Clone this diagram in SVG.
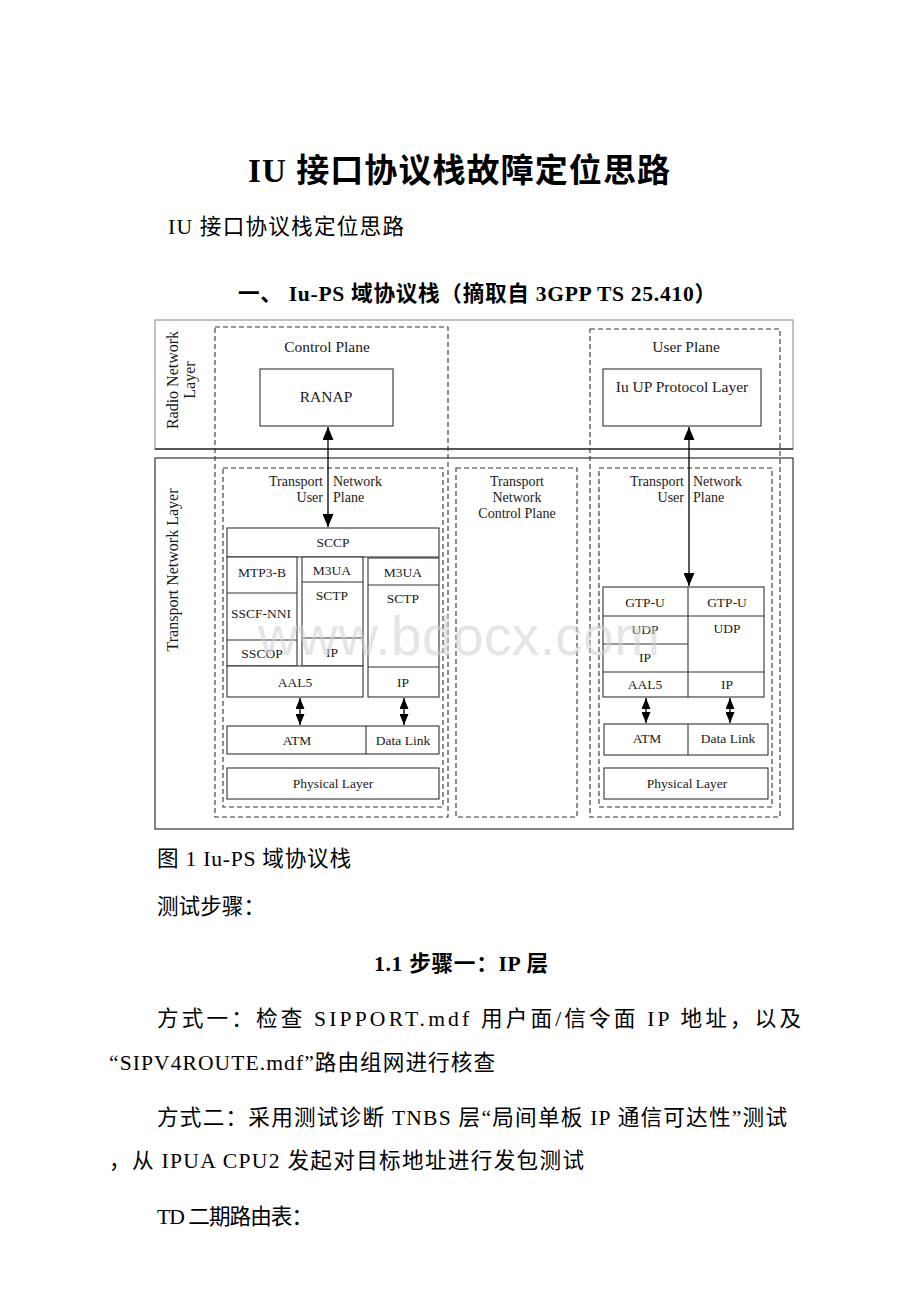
<svg xmlns="http://www.w3.org/2000/svg" width="920" height="1302" viewBox="0 0 920 1302">
<defs>
<marker id="ah" markerUnits="userSpaceOnUse" markerWidth="13" markerHeight="11" viewBox="0 0 13 11" refX="13" refY="5.5" orient="auto-start-reverse"><path d="M0,0 L13,5.5 L0,11 Z" fill="#000"/></marker>
<marker id="ahs" markerUnits="userSpaceOnUse" markerWidth="11" markerHeight="9" viewBox="0 0 11 9" refX="11" refY="4.5" orient="auto-start-reverse"><path d="M0,0 L11,4.5 L0,9 Z" fill="#000"/></marker>
</defs>
<style>
.doc{font-family:"Liberation Serif","Noto Sans CJK SC",serif;fill:#000}
.body{font-size:21.6px}
.bold{font-weight:bold}
.lbl{font-family:"Liberation Serif","Times New Roman",serif;font-size:13.5px;fill:#1a1a1a;text-anchor:middle}
.big{font-size:15.5px}
.tn{font-family:"Liberation Serif","Times New Roman",serif;font-size:14px;fill:#1a1a1a}
.rot{font-family:"Liberation Serif","Times New Roman",serif;font-size:16px;fill:#1a1a1a;text-anchor:middle}
.box{fill:#fff;stroke:#333;stroke-width:1.1}
.ln{stroke:#333;stroke-width:1.1;fill:none}
.dash{fill:none;stroke:#333;stroke-width:1.1;stroke-dasharray:5,3}
.frame{fill:none;stroke:#444;stroke-width:1.3}
.conn{stroke:#000;stroke-width:1.3;fill:none}
</style>
<rect width="920" height="1302" fill="#fff"/>

<g id="page-text" class="doc">
<text class="bold" x="248" y="182" font-size="33" textLength="422" lengthAdjust="spacing">IU 接口协议栈故障定位思路</text>
<text class="body" x="168" y="233.5" textLength="236" lengthAdjust="spacing">IU 接口协议栈定位思路</text>
<text class="body bold" x="238" y="300.5" textLength="478" lengthAdjust="spacing">一、 Iu-PS 域协议栈（摘取自 3GPP TS 25.410）</text>
<text class="body" x="157" y="865.5" textLength="194" lengthAdjust="spacing">图 1 Iu-PS 域协议栈</text>
<text class="body" x="157" y="913.5">测试步骤：</text>
<text class="body bold" x="374" y="970.5" textLength="174" lengthAdjust="spacing">1.1 步骤一：IP 层</text>
<text class="body" x="157" y="1025.5" textLength="644" lengthAdjust="spacing">方式一：检查 SIPPORT.mdf 用户面/信令面 IP 地址，以及</text>
<text class="body" x="109" y="1069.5" textLength="386" lengthAdjust="spacing">“SIPV4ROUTE.mdf”路由组网进行核查</text>
<text class="body" x="157" y="1124.5" textLength="630" lengthAdjust="spacing">方式二：采用测试诊断 TNBS 层“局间单板 IP 通信可达性”测试</text>
<text class="body" x="109" y="1167.5" textLength="475" lengthAdjust="spacing">，从 IPUA CPU2 发起对目标地址进行发包测试</text>
<text class="body" x="157" y="1223.5" textLength="156" lengthAdjust="spacing">TD 二期路由表：</text>
</g>

<g id="radio-network-layer">
<rect x="155" y="320" width="638" height="129" fill="none" stroke="#999" stroke-width="1.2"/>
<line x1="155" y1="449" x2="793" y2="449" stroke="#333" stroke-width="1.3"/>
<text class="rot" transform="translate(178,380) rotate(-90)">Radio Network</text>
<text class="rot" transform="translate(195,380) rotate(-90)">Layer</text>
</g>

<g id="transport-network-layer">
<rect x="155" y="458" width="638" height="371" class="frame"/>
<text class="rot" transform="translate(178,570) rotate(-90)">Transport Network Layer</text>
</g>

<g id="control-plane">
<rect x="215" y="327" width="233" height="490" class="dash"/>
<text class="lbl big" x="327" y="352">Control Plane</text>
</g>

<g id="ranap">
<rect x="260" y="369" width="133" height="57" class="box"/>
<text class="lbl big" x="326" y="402">RANAP</text>
</g>

<g id="user-plane">
<rect x="590" y="329" width="190" height="488" class="dash"/>
<text class="lbl big" x="686" y="352">User Plane</text>
</g>

<g id="iu-up-protocol-layer">
<rect x="603" y="369" width="158" height="57" class="box"/>
<text class="lbl big" x="682" y="392">Iu UP Protocol Layer</text>
</g>

<g id="tn-user-plane-left">
<rect x="223" y="468" width="220" height="339" class="dash"/>
<text class="tn" x="323" y="486" text-anchor="end">Transport</text>
<text class="tn" x="333" y="486">Network</text>
<text class="tn" x="323" y="502" text-anchor="end">User</text>
<text class="tn" x="333" y="502">Plane</text>
</g>

<g id="tn-control-plane">
<rect x="456" y="468" width="121" height="349" class="dash"/>
<text class="tn" x="517" y="486" text-anchor="middle">Transport</text>
<text class="tn" x="517" y="502" text-anchor="middle">Network</text>
<text class="tn" x="517" y="518" text-anchor="middle">Control Plane</text>
</g>

<g id="tn-user-plane-right">
<rect x="599" y="468" width="173" height="339" class="dash"/>
<text class="tn" x="684" y="486" text-anchor="end">Transport</text>
<text class="tn" x="693" y="486">Network</text>
<text class="tn" x="684" y="502" text-anchor="end">User</text>
<text class="tn" x="693" y="502">Plane</text>
</g>

<g id="sccp">
<rect x="227" y="528" width="212" height="29" class="box"/>
<text class="lbl" x="333" y="547">SCCP</text>
</g>

<g id="atm-stack">
<rect x="227" y="557" width="70" height="109" class="box"/>
<line x1="227" y1="593" x2="297" y2="593" class="ln"/>
<line x1="227" y1="640" x2="297" y2="640" class="ln"/>
<text class="lbl" x="262" y="577">MTP3-B</text>
<text class="lbl" x="261" y="618">SSCF-NNI</text>
<text class="lbl" x="262" y="658">SSCOP</text>
</g>

<g id="m3ua-stack-1">
<rect x="302" y="557" width="61" height="109" class="box"/>
<line x1="302" y1="582" x2="363" y2="582" class="ln"/>
<line x1="302" y1="638" x2="363" y2="638" class="ln"/>
<text class="lbl" x="332" y="575">M3UA</text>
<text class="lbl" x="332" y="600">SCTP</text>
<text class="lbl" x="332" y="657">IP</text>
</g>

<g id="m3ua-stack-2">
<rect x="368" y="558" width="71" height="139" class="box"/>
<line x1="368" y1="585" x2="439" y2="585" class="ln"/>
<line x1="368" y1="667" x2="439" y2="667" class="ln"/>
<text class="lbl" x="403" y="577">M3UA</text>
<text class="lbl" x="403" y="603">SCTP</text>
<text class="lbl" x="403" y="687">IP</text>
</g>

<g id="aal5-left">
<rect x="227" y="666" width="136" height="31" class="box"/>
<text class="lbl" x="295" y="687">AAL5</text>
</g>

<g id="atm-datalink-left">
<rect x="227" y="726" width="212" height="28" class="box"/>
<line x1="366" y1="726" x2="366" y2="754" class="ln"/>
<text class="lbl" x="297" y="745">ATM</text>
<text class="lbl" x="403" y="745">Data Link</text>
</g>

<g id="physical-left">
<rect x="227" y="768" width="212" height="31" class="box"/>
<text class="lbl" x="333" y="788">Physical Layer</text>
</g>

<g id="gtpu-stack">
<rect x="603" y="587" width="161" height="110" class="box"/>
<line x1="688" y1="587" x2="688" y2="697" class="ln"/>
<line x1="603" y1="616" x2="764" y2="616" class="ln"/>
<line x1="603" y1="644" x2="688" y2="644" class="ln"/>
<line x1="603" y1="672" x2="764" y2="672" class="ln"/>
<text class="lbl" x="645" y="607">GTP-U</text>
<text class="lbl" x="727" y="607">GTP-U</text>
<text class="lbl" x="645" y="634">UDP</text>
<text class="lbl" x="727" y="633">UDP</text>
<text class="lbl" x="645" y="662">IP</text>
<text class="lbl" x="645" y="689">AAL5</text>
<text class="lbl" x="727" y="689">IP</text>
</g>

<g id="atm-datalink-right">
<rect x="604" y="724" width="164" height="31" class="box"/>
<line x1="688" y1="724" x2="688" y2="755" class="ln"/>
<text class="lbl" x="647" y="743">ATM</text>
<text class="lbl" x="728" y="743">Data Link</text>
</g>

<g id="physical-right">
<rect x="604" y="768" width="164" height="31" class="box"/>
<text class="lbl" x="687" y="788">Physical Layer</text>
</g>

<g id="connectors">
<line x1="328" y1="427" x2="328" y2="527" class="conn" marker-start="url(#ah)" marker-end="url(#ah)"/>
<line x1="689" y1="427" x2="689" y2="586" class="conn" marker-start="url(#ah)" marker-end="url(#ah)"/>
<line x1="300" y1="698" x2="300" y2="725" class="conn" marker-start="url(#ahs)" marker-end="url(#ahs)"/>
<line x1="404" y1="698" x2="404" y2="725" class="conn" marker-start="url(#ahs)" marker-end="url(#ahs)"/>
<line x1="646" y1="698" x2="646" y2="723" class="conn" marker-start="url(#ahs)" marker-end="url(#ahs)"/>
<line x1="730" y1="698" x2="730" y2="723" class="conn" marker-start="url(#ahs)" marker-end="url(#ahs)"/>
</g>

<g id="watermark">
<text x="258" y="655" font-family="'Liberation Sans',Arial,sans-serif" font-size="55" fill="#d0d0d0" fill-opacity="0.55" textLength="402" lengthAdjust="spacing">www.bdocx.com</text>
</g>
</svg>
